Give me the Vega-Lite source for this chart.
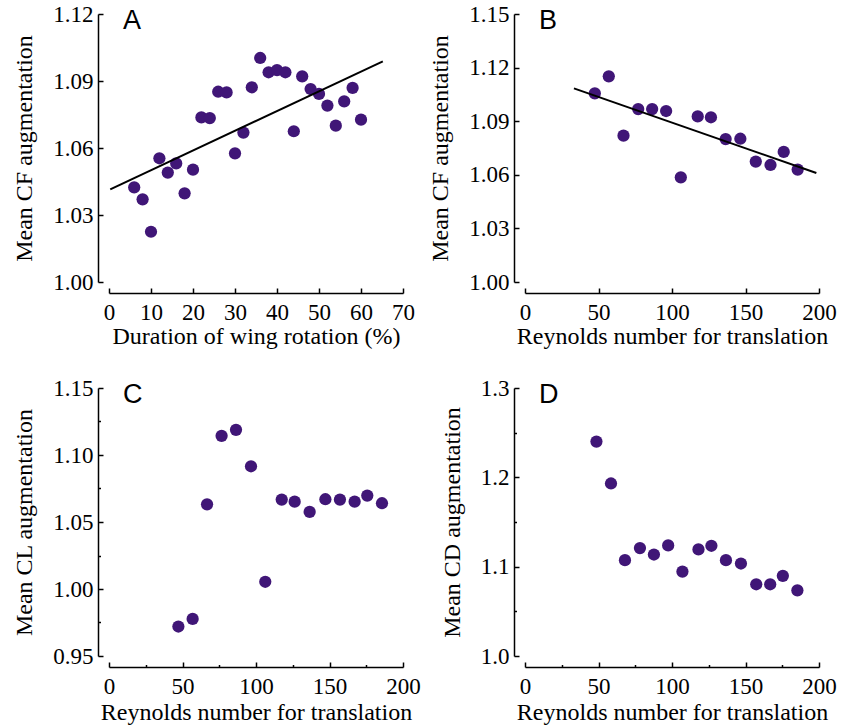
{
  "$schema": "https://vega.github.io/schema/vega-lite/v6.json",
  "padding": {"left": 12, "top": 3, "right": 5, "bottom": 5},
  "background": "white",
  "datasets": {
    "a": [
      {"x": 6, "y": 1.0424}, {"x": 8, "y": 1.037}, {"x": 10, "y": 1.0225}, {"x": 12, "y": 1.0554},
      {"x": 14, "y": 1.049}, {"x": 16, "y": 1.0531}, {"x": 18, "y": 1.0397}, {"x": 20, "y": 1.0503},
      {"x": 22, "y": 1.0737}, {"x": 24, "y": 1.0734}, {"x": 26, "y": 1.0852}, {"x": 28, "y": 1.0849},
      {"x": 30, "y": 1.0576}, {"x": 32, "y": 1.0669}, {"x": 34, "y": 1.0872}, {"x": 36, "y": 1.1003},
      {"x": 38, "y": 1.0939}, {"x": 40, "y": 1.0949}, {"x": 42, "y": 1.0939}, {"x": 44, "y": 1.0675},
      {"x": 46, "y": 1.0921}, {"x": 48, "y": 1.0864}, {"x": 50, "y": 1.0842}, {"x": 52, "y": 1.079},
      {"x": 54, "y": 1.07}, {"x": 56, "y": 1.0809}, {"x": 58, "y": 1.0869}, {"x": 60, "y": 1.0727}
    ],
    "aFit": [{"x": 0.3, "y": 1.0415}, {"x": 65.2, "y": 1.0988}],
    "b": [
      {"x": 47.5, "y": 1.1056}, {"x": 57, "y": 1.1151}, {"x": 67, "y": 1.0819}, {"x": 77, "y": 1.0968},
      {"x": 86.5, "y": 1.0968}, {"x": 96, "y": 1.0957}, {"x": 106, "y": 1.0586}, {"x": 117.5, "y": 1.0927},
      {"x": 126.5, "y": 1.0922}, {"x": 136.5, "y": 1.08}, {"x": 146.5, "y": 1.0802}, {"x": 157, "y": 1.0674},
      {"x": 167, "y": 1.0655}, {"x": 176, "y": 1.0728}, {"x": 185.5, "y": 1.0629}
    ],
    "bFit": [{"x": 33.3, "y": 1.1084}, {"x": 198.2, "y": 1.061}],
    "c": [
      {"x": 47.2, "y": 0.972}, {"x": 56.9, "y": 0.9777}, {"x": 66.7, "y": 1.0632}, {"x": 76.6, "y": 1.1143},
      {"x": 86.4, "y": 1.1188}, {"x": 96.6, "y": 1.0916}, {"x": 106.3, "y": 1.0054}, {"x": 117.5, "y": 1.0667},
      {"x": 126.3, "y": 1.0652}, {"x": 136.5, "y": 1.0575}, {"x": 147.2, "y": 1.067}, {"x": 157.1, "y": 1.0667},
      {"x": 167.1, "y": 1.0652}, {"x": 175.7, "y": 1.0697}, {"x": 185.7, "y": 1.064}
    ],
    "d": [
      {"x": 48.6, "y": 1.24}, {"x": 58.5, "y": 1.1931}, {"x": 68, "y": 1.1073}, {"x": 78.2, "y": 1.1208},
      {"x": 87.7, "y": 1.1136}, {"x": 97.4, "y": 1.1238}, {"x": 107.1, "y": 1.0945}, {"x": 118, "y": 1.1193},
      {"x": 126.8, "y": 1.1234}, {"x": 136.7, "y": 1.1073}, {"x": 146.9, "y": 1.1035}, {"x": 157.3, "y": 1.0803},
      {"x": 166.8, "y": 1.0803}, {"x": 175.4, "y": 1.0897}, {"x": 185.3, "y": 1.0735}
    ]
  },
  "columns": 2,
  "spacing": {"row": 106, "column": 122},
  "bounds": "flush",
  "concat": [
    {
      "width": 294, "height": 268,
      "title": {"text": "A", "dx": 14, "offset": -32},
      "layer": [
        {
          "data": {"name": "a"},
          "mark": {"type": "circle", "color": "#401677", "opacity": 1, "size": 150},
          "encoding": {
            "x": {"field": "x", "type": "quantitative", "title": "Duration of wing rotation (%)",
                  "scale": {"domain": [0, 70], "nice": false, "zero": false},
                  "axis": {"values": [0, 5, 10, 15, 20, 25, 30, 35, 40, 45, 50, 55, 60, 65, 70],
                           "tickSize": {"condition": {"test": "round(datum.index*14)%2==0", "value": -5}, "value": -2.5},
                           "labelExpr": "round(datum.index*14)%2==0 ? datum.label : ''"}},
            "y": {"field": "y", "type": "quantitative", "title": "Mean CF augmentation",
                  "scale": {"domain": [1.0, 1.12], "nice": false, "zero": false},
                  "axis": {"values": [1.0, 1.015, 1.03, 1.045, 1.06, 1.075, 1.09, 1.105, 1.12], "format": ".2f",
                           "tickSize": {"condition": {"test": "round(datum.index*8)%2==0", "value": -5}, "value": -2.5},
                           "labelExpr": "round(datum.index*8)%2==0 ? datum.label : ''"}}
          }
        },
        {
          "data": {"name": "aFit"},
          "mark": {"type": "line", "color": "black", "strokeWidth": 2},
          "encoding": {
            "x": {"field": "x", "type": "quantitative", "title": "Duration of wing rotation (%)"},
            "y": {"field": "y", "type": "quantitative", "title": "Mean CF augmentation"}
          }
        }
      ]
    },
    {
      "width": 294, "height": 268,
      "title": {"text": "B", "dx": 14, "offset": -32},
      "layer": [
        {
          "data": {"name": "b"},
          "mark": {"type": "circle", "color": "#401677", "opacity": 1, "size": 150},
          "encoding": {
            "x": {"field": "x", "type": "quantitative", "title": "Reynolds number for translation",
                  "scale": {"domain": [0, 200], "nice": false, "zero": false},
                  "axis": {"values": [0, 25, 50, 75, 100, 125, 150, 175, 200],
                           "tickSize": {"condition": {"test": "round(datum.index*8)%2==0", "value": -5}, "value": -2.5},
                           "labelExpr": "round(datum.index*8)%2==0 ? datum.label : ''"}},
            "y": {"field": "y", "type": "quantitative", "title": "Mean CF augmentation",
                  "scale": {"domain": [1.0, 1.15], "nice": false, "zero": false},
                  "axis": {"values": [1.0, 1.015, 1.03, 1.045, 1.06, 1.075, 1.09, 1.105, 1.12, 1.135, 1.15], "format": ".2f",
                           "tickSize": {"condition": {"test": "round(datum.index*10)%2==0", "value": -5}, "value": -2.5},
                           "labelExpr": "round(datum.index*10)%2==0 ? datum.label : ''"}}
          }
        },
        {
          "data": {"name": "bFit"},
          "mark": {"type": "line", "color": "black", "strokeWidth": 2},
          "encoding": {
            "x": {"field": "x", "type": "quantitative", "title": "Reynolds number for translation"},
            "y": {"field": "y", "type": "quantitative", "title": "Mean CF augmentation"}
          }
        }
      ]
    },
    {
      "width": 294, "height": 268,
      "title": {"text": "C", "dx": 14, "offset": -32},
      "data": {"name": "c"},
      "mark": {"type": "circle", "color": "#401677", "opacity": 1, "size": 150},
      "encoding": {
        "x": {"field": "x", "type": "quantitative", "title": "Reynolds number for translation",
              "scale": {"domain": [0, 200], "nice": false, "zero": false},
              "axis": {"values": [0, 25, 50, 75, 100, 125, 150, 175, 200],
                       "tickSize": {"condition": {"test": "round(datum.index*8)%2==0", "value": -5}, "value": -2.5},
                       "labelExpr": "round(datum.index*8)%2==0 ? datum.label : ''"}},
        "y": {"field": "y", "type": "quantitative", "title": "Mean CL augmentation",
              "scale": {"domain": [0.95, 1.15], "nice": false, "zero": false},
              "axis": {"values": [0.95, 0.975, 1.0, 1.025, 1.05, 1.075, 1.1, 1.125, 1.15], "format": ".2f",
                       "tickSize": {"condition": {"test": "round(datum.index*8)%2==0", "value": -5}, "value": -2.5},
                       "labelExpr": "round(datum.index*8)%2==0 ? datum.label : ''"}}
      }
    },
    {
      "width": 294, "height": 268,
      "title": {"text": "D", "dx": 14, "offset": -32},
      "data": {"name": "d"},
      "mark": {"type": "circle", "color": "#401677", "opacity": 1, "size": 150},
      "encoding": {
        "x": {"field": "x", "type": "quantitative", "title": "Reynolds number for translation",
              "scale": {"domain": [0, 200], "nice": false, "zero": false},
              "axis": {"values": [0, 25, 50, 75, 100, 125, 150, 175, 200],
                       "tickSize": {"condition": {"test": "round(datum.index*8)%2==0", "value": -5}, "value": -2.5},
                       "labelExpr": "round(datum.index*8)%2==0 ? datum.label : ''"}},
        "y": {"field": "y", "type": "quantitative", "title": "Mean CD augmentation",
              "scale": {"domain": [1.0, 1.3], "nice": false, "zero": false},
              "axis": {"values": [1.0, 1.05, 1.1, 1.15, 1.2, 1.25, 1.3], "format": ".1f",
                       "tickSize": {"condition": {"test": "round(datum.index*6)%2==0", "value": -5}, "value": -2.5},
                       "labelExpr": "round(datum.index*6)%2==0 ? datum.label : ''"}}
      }
    }
  ],
  "config": {
    "view": {"stroke": null},
    "title": {"font": "Liberation Sans", "fontSize": 27, "fontWeight": "normal", "anchor": "start", "frame": "group", "color": "black", "baseline": "alphabetic"},
    "axis": {
      "grid": false, "offset": 11,
      "domainColor": "black", "domainWidth": 1.5, "tickColor": "black", "tickWidth": 1.5,
      "labelFont": "Liberation Serif, DejaVu Serif, serif", "labelFontSize": 23, "labelColor": "black", "labelPadding": 10,
      "labelOverlap": false, "labelFlush": false,
      "titleFont": "Liberation Serif, DejaVu Serif, serif", "titleFontSize": 24, "titleFontWeight": "normal", "titleColor": "black"
    },
    "axisX": {"labelPadding": 13, "titlePadding": 0},
    "axisY": {"titlePadding": 16}
  }
}
